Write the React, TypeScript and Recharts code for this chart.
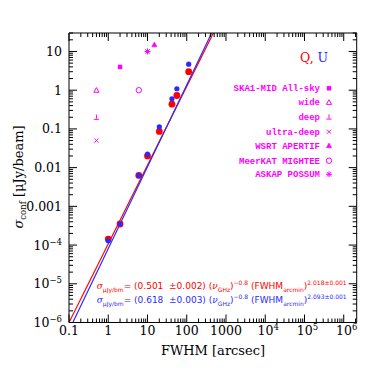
import React from 'react';
import { ComposedChart, XAxis, YAxis, Line, Scatter } from 'recharts';

// ---- data ----
const qFwhm = [1, 2, 6, 10, 20, 42, 56, 112];
const qSigma = [1.43e-4, 3.5e-4, 0.0063, 0.02, 0.086, 0.435, 0.73, 3.0];
const uFwhm = [1, 2, 6, 10, 20, 42, 56, 112];
const uSigma = [1.29e-4, 3.5e-4, 0.0063, 0.0224, 0.113, 0.6, 1.09, 4.7];

const qFitX = [0.1, 478];
const qFitY = [1e-6, 30];
const uFitX = [0.125, 431];
const uFitY = [1e-6, 30];

const surveyNames = ['SKA1-MID All-sky', 'wide', 'deep', 'ultra-deep', 'WSRT APERTIF', 'MeerKAT MIGHTEE', 'ASKAP POSSUM'];
const surveyFwhm = [2, 0.5, 0.5, 0.5, 15, 6, 10];
const surveySigma = [4, 1, 0.2, 0.05, 15, 1, 10];
const surveyShape = ['square', 'triangle', 'deep', 'cross', 'filledTriangle', 'circle', 'asterisk'];

const xMajor = [0.1, 1, 10, 100, 1000, 1e4, 1e5, 1e6];
const xLabels = ['0.1', '1', '10', '100', '1000', '10^4', '10^5', '10^6'];
const yMajor = [1e-6, 1e-5, 1e-4, 1e-3, 1e-2, 0.1, 1, 10];
const yLabels = ['10^−6', '10^−5', '10^−4', '0.001', '0.01', '0.1', '1', '10'];

const X_DOMAIN: [number, number] = [0.1, 2.14e6];
const Y_DOMAIN: [number, number] = [1e-6, 30];

const RED = '#ff0000';
const BLUE = '#2a2aff';
const MAG = '#ff00ff';
const FONT = '"DejaVu Serif", serif';

const zip = (xs: number[], ys: number[]) => xs.map((x, i) => ({ x, y: ys[i] }));
const qData = zip(qFwhm, qSigma);
const uData = zip(uFwhm, uSigma);
const qFit = zip(qFitX, qFitY);
const uFit = zip(uFitX, uFitY);

function withMinors(majors: number[], max: number) {
  const out: number[] = [];
  majors.forEach((m) => {
    for (let k = 1; k <= 9; k++) {
      const v = m * k;
      if (v <= max * 1.0001) out.push(v);
    }
  });
  return out;
}
const xTicks = withMinors(xMajor, X_DOMAIN[1]);
const yTicks = withMinors(yMajor, Y_DOMAIN[1]);

const isMajor = (v: number) => Math.abs(Math.log10(v) - Math.round(Math.log10(v))) < 1e-6;

function labelFor(v: number, majors: number[], labels: string[]) {
  const i = majors.findIndex((m) => Math.abs(Math.log10(m) - Math.log10(v)) < 1e-6);
  return i >= 0 ? labels[i] : null;
}

function TickText({ x, y, label, anchor }: any) {
  if (label.includes('^')) {
    const [base, exp] = label.split('^');
    return (
      <text x={x} y={y} textAnchor={anchor} fontFamily={FONT} fontSize={12.5} fill="#000">
        {base}
        <tspan fontSize={8.5} dy={-5}>{exp}</tspan>
      </text>
    );
  }
  return (
    <text x={x} y={y} textAnchor={anchor} fontFamily={FONT} fontSize={12.5} fill="#000">
      {label}
    </text>
  );
}

function XTick(props: any) {
  const { x, y, payload, side } = props;
  const v = payload.value;
  const major = isMajor(v);
  const len = major ? 8 : 4;
  const dir = side === 'bottom' ? -1 : 1;
  const label = side === 'bottom' && major ? labelFor(v, xMajor, xLabels) : null;
  const sup = label && label.includes('^');
  return (
    <g>
      <line x1={x} y1={y} x2={x} y2={y + dir * len} stroke="#000" strokeWidth={1} />
      {label ? <TickText x={sup ? x + 3 : x} y={y + 12.5} label={label} anchor="middle" /> : null}
    </g>
  );
}

function YTick(props: any) {
  const { x, y, payload, side } = props;
  const v = payload.value;
  const major = isMajor(v);
  const len = major ? 8 : 4;
  const dir = side === 'left' ? 1 : -1;
  const label = side === 'left' && major ? labelFor(v, yMajor, yLabels) : null;
  return (
    <g>
      <line x1={x} y1={y} x2={x + dir * len} y2={y} stroke="#000" strokeWidth={1} />
      {label ? <TickText x={x - 7} y={y + 4.5} label={label} anchor="end" /> : null}
    </g>
  );
}

function symbol(kind: string, cx: number, cy: number, color: string, key?: any) {
  const s = 2.6;
  switch (kind) {
    case 'square':
      return <rect key={key} x={cx - 2.2} y={cy - 2.2} width={4.4} height={4.4} fill={color} />;
    case 'triangle':
      return (
        <polygon key={key} points={`${cx},${cy - s} ${cx - s},${cy + s * 0.8} ${cx + s},${cy + s * 0.8}`}
          fill="none" stroke={color} strokeWidth={1} />
      );
    case 'filledTriangle':
      return (
        <polygon key={key} points={`${cx},${cy - s} ${cx - s},${cy + s * 0.8} ${cx + s},${cy + s * 0.8}`}
          fill={color} stroke={color} strokeWidth={0.6} />
      );
    case 'deep':
      return (
        <g key={key} stroke={color} strokeWidth={1}>
          <line x1={cx} y1={cy - s} x2={cx} y2={cy + s * 0.6} />
          <line x1={cx - s} y1={cy + s * 0.8} x2={cx + s} y2={cy + s * 0.8} />
        </g>
      );
    case 'cross':
      return (
        <g key={key} stroke={color} strokeWidth={1}>
          <line x1={cx - 2} y1={cy - 2} x2={cx + 2} y2={cy + 2} />
          <line x1={cx - 2} y1={cy + 2} x2={cx + 2} y2={cy - 2} />
        </g>
      );
    case 'circle':
      return <circle key={key} cx={cx} cy={cy} r={2.7} fill="none" stroke={color} strokeWidth={1} />;
    case 'asterisk':
      return (
        <g key={key} stroke={color} strokeWidth={1}>
          <line x1={cx - 3} y1={cy} x2={cx + 3} y2={cy} />
          <line x1={cx} y1={cy - 3} x2={cx} y2={cy + 3} />
          <line x1={cx - 2.2} y1={cy - 2.2} x2={cx + 2.2} y2={cy + 2.2} />
          <line x1={cx - 2.2} y1={cy + 2.2} x2={cx + 2.2} y2={cy - 2.2} />
        </g>
      );
    default:
      return <g key={key} />;
  }
}

const W = 382;
const H = 382;

export default function App() {
  const legendRowsY = [80.3, 94.3, 109, 123.7, 137.7, 152.7, 166.3];
  return (
    <div style={{ position: 'relative', width: W, height: H }}>
      <ComposedChart width={W} height={H} margin={{ top: 24, left: 60, right: 32.3, bottom: 66.5 }}>
        <XAxis
          xAxisId="b"
          dataKey="x"
          type="number"
          scale="log"
          domain={X_DOMAIN}
          allowDataOverflow
          ticks={xTicks}
          interval={0}
          height={1}
          tickSize={0}
          tickMargin={0}
          tickLine={false}
          axisLine={{ stroke: '#000', strokeWidth: 1 }}
          tick={(p: any) => <XTick {...p} side="bottom" />}
        />
        <XAxis
          xAxisId="t"
          orientation="top"
          dataKey="x"
          type="number"
          scale="log"
          domain={X_DOMAIN}
          allowDataOverflow
          ticks={xTicks}
          interval={0}
          height={1}
          tickSize={0}
          tickMargin={0}
          tickLine={false}
          axisLine={{ stroke: '#000', strokeWidth: 1 }}
          tick={(p: any) => <XTick {...p} side="top" />}
        />
        <YAxis
          yAxisId="l"
          dataKey="y"
          type="number"
          scale="log"
          domain={Y_DOMAIN}
          allowDataOverflow
          ticks={yTicks}
          interval={0}
          width={1}
          tickSize={0}
          tickMargin={0}
          tickLine={false}
          axisLine={{ stroke: '#000', strokeWidth: 1 }}
          tick={(p: any) => <YTick {...p} side="left" />}
        />
        <YAxis
          yAxisId="r"
          orientation="right"
          dataKey="y"
          type="number"
          scale="log"
          domain={Y_DOMAIN}
          allowDataOverflow
          ticks={yTicks}
          interval={0}
          width={1}
          tickSize={0}
          tickMargin={0}
          tickLine={false}
          axisLine={{ stroke: '#000', strokeWidth: 1 }}
          tick={(p: any) => <YTick {...p} side="right" />}
        />
        <Line xAxisId="b" yAxisId="l" data={qFit} dataKey="y" type="linear" stroke={RED} strokeWidth={1.2}
          dot={false} isAnimationActive={false} />
        <Line xAxisId="b" yAxisId="l" data={uFit} dataKey="y" type="linear" stroke={BLUE} strokeWidth={1.2}
          dot={false} isAnimationActive={false} />
        <Scatter xAxisId="b" yAxisId="l" data={qData} dataKey="y" isAnimationActive={false}
          shape={(p: any) => <circle cx={p.cx} cy={p.cy} r={3.4} fill={RED} />} />
        <Scatter xAxisId="b" yAxisId="l" data={uData} dataKey="y" isAnimationActive={false}
          shape={(p: any) => <circle cx={p.cx} cy={p.cy} r={2.6} fill={BLUE} />} />
        {surveyNames.map((name, i) => (
          <Scatter key={name} name={name} xAxisId="b" yAxisId="l" data={[{ x: surveyFwhm[i], y: surveySigma[i] }]}
            dataKey="y" isAnimationActive={false}
            shape={(p: any) => symbol(surveyShape[i], p.cx, p.cy, MAG)} />
        ))}
      </ComposedChart>
      <svg width={W} height={H} style={{ position: 'absolute', left: 0, top: 0, pointerEvents: 'none' }}>
        {/* Q, U */}
        <text x={292} y={54} fontFamily={FONT} fontSize={12.5} fill={RED}>
          Q,<tspan fill={BLUE}> U</tspan>
        </text>
        {/* legend */}
        {surveyNames.map((name, i) => (
          <g key={name}>
            <text x={312} y={legendRowsY[i] + 3} textAnchor="end" fontFamily='"Liberation Mono", monospace'
              fontWeight="bold" fontSize={9} fill={MAG}>{name}</text>
            {symbol(surveyShape[i], 321, legendRowsY[i], MAG)}
          </g>
        ))}
        {/* formulas */}
        {[
          { c: RED, y: 281, a: '0.501', e: '0.002', p: '2.018±0.001' },
          { c: BLUE, y: 295, a: '0.618', e: '0.003', p: '2.093±0.001' },
        ].map((f) => (
          <text key={f.c} x={88.7} y={f.y} fontFamily='"DejaVu Sans", sans-serif' fontSize={9} fill={f.c}
            style={{ whiteSpace: 'pre' }}>
            <tspan fontStyle="italic" fontFamily={FONT}>σ</tspan>
            <tspan fontSize={6} dy={2.5}>μJy/bm</tspan>
            <tspan dy={-2.5}>{`= (${f.a}  ±${f.e}) (`}</tspan>
            <tspan fontStyle="italic" fontFamily={FONT}>ν</tspan>
            <tspan fontSize={6} dy={2.5}>GHz</tspan>
            <tspan dy={-2.5}>)</tspan>
            <tspan fontSize={6} dy={-4}>−0.8</tspan>
            <tspan dy={4}>{' (FWHM'}</tspan>
            <tspan fontSize={6} dy={2.5}>arcmin</tspan>
            <tspan dy={-2.5}>)</tspan>
            <tspan fontSize={6} dy={-4}>{f.p}</tspan>
          </text>
        ))}
        {/* axis titles */}
        <text x={205} y={347} textAnchor="middle" fontFamily={FONT} fontSize={13} fill="#000">FWHM [arcsec]</text>
        <text transform="translate(15,169) rotate(-90)" textAnchor="middle" fontFamily={FONT} fontSize={13} fill="#000">
          <tspan fontStyle="italic">σ</tspan>
          <tspan fontSize={8.5} dy={3}>conf</tspan>
          <tspan dy={-3}>{' [μJy/beam]'}</tspan>
        </text>
      </svg>
    </div>
  );
}
